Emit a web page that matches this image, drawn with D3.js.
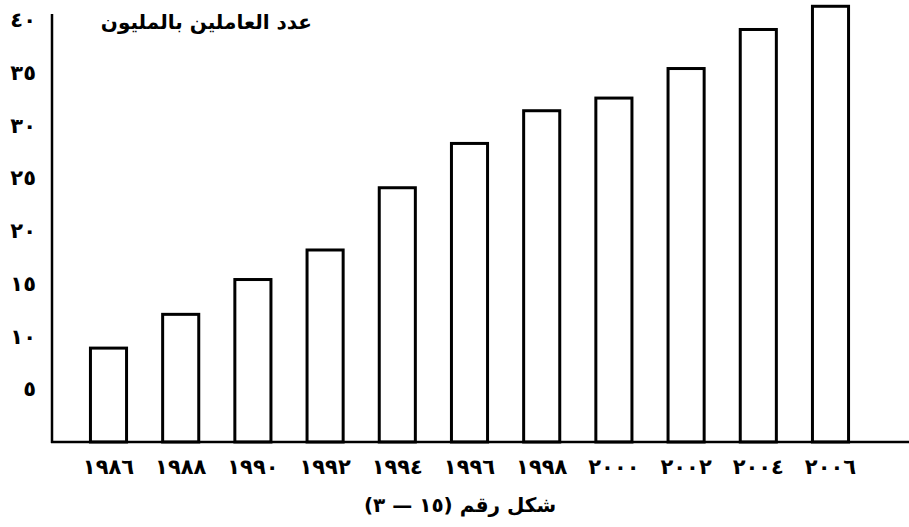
<!DOCTYPE html>
<html>
<head>
<meta charset="utf-8">
<script src="https://cdn.jsdelivr.net/npm/d3@7"></script>
<style>
  body { margin: 0; background: #fff; }
  text { font-family: "DejaVu Sans", sans-serif; font-weight: bold; fill: #000; }
</style>
</head>
<body>
<svg id="chart"></svg>
<script>
const years = [1986, 1988, 1990, 1992, 1994, 1996, 1998, 2000, 2002, 2004, 2006];
const workers = [8.9, 12.1, 15.4, 18.2, 24.1, 28.3, 31.4, 32.6, 35.4, 39.1, 41.3];
const yTicks = [5, 10, 15, 20, 25, 30, 35, 40];
const titleText = "عدد العاملين بالمليون";
const captionText = "شكل رقم (١٥ — ٣)";

const svgWidth = 909;
const svgHeight = 527;
const axisX = 52;
const baseY = 442;

const svg = d3.select("#chart").attr("width", svgWidth).attr("height", svgHeight);

// convert western digits to arabic-indic
const toArabic = (n) => String(n).replace(/[0-9]/g, (c) => "٠١٢٣٤٥٦٧٨٩"[+c]);

const x = d3.scaleBand()
  .domain(years)
  .range([72.4, 866.6])
  .paddingInner(0.5)
  .paddingOuter(0.25);

const y = d3.scaleLinear().domain([0, 40]).range([baseY, 20]);

// bars
svg.selectAll(".bar")
  .data(years)
  .enter()
  .append("rect")
  .attr("class", "bar")
  .attr("x", (d) => x(d))
  .attr("width", x.bandwidth())
  .attr("y", (d, i) => y(workers[i]))
  .attr("height", (d, i) => baseY - y(workers[i]))
  .attr("fill", "#fff")
  .attr("stroke", "#000")
  .attr("stroke-width", 3);

// y axis
const yAxis = svg.append("g")
  .attr("transform", `translate(${axisX},0)`)
  .call(d3.axisLeft(y).tickValues(yTicks).tickSize(0).tickPadding(16).tickFormat(toArabic));
yAxis.select(".domain").remove();
yAxis.selectAll("text").style("font-size", "21px").style("font-family", "DejaVu Sans").style("font-weight", "bold");

svg.append("line")
  .attr("x1", axisX).attr("x2", axisX)
  .attr("y1", 14).attr("y2", baseY + 1)
  .attr("stroke", "#000").attr("stroke-width", 2.5);

// x axis
const xAxis = svg.append("g")
  .attr("transform", `translate(0,${baseY})`)
  .call(d3.axisBottom(x).tickSize(0).tickPadding(17).tickFormat(toArabic));
xAxis.select(".domain").remove();
xAxis.selectAll("text").style("font-size", "21px").style("font-family", "DejaVu Sans").style("font-weight", "bold");

svg.append("line")
  .attr("x1", axisX - 1).attr("x2", svgWidth)
  .attr("y1", baseY).attr("y2", baseY)
  .attr("stroke", "#000").attr("stroke-width", 2.5);

// title
svg.append("text")
  .attr("x", 312)
  .attr("y", 29)
  .attr("text-anchor", "end")
  .style("font-size", "20px")
  .text(titleText);

// caption
svg.append("text")
  .attr("x", 460)
  .attr("y", 512)
  .attr("text-anchor", "middle")
  .attr("direction", "rtl")
  .style("font-size", "20px")
  .text(captionText);
</script>
</body>
</html>
